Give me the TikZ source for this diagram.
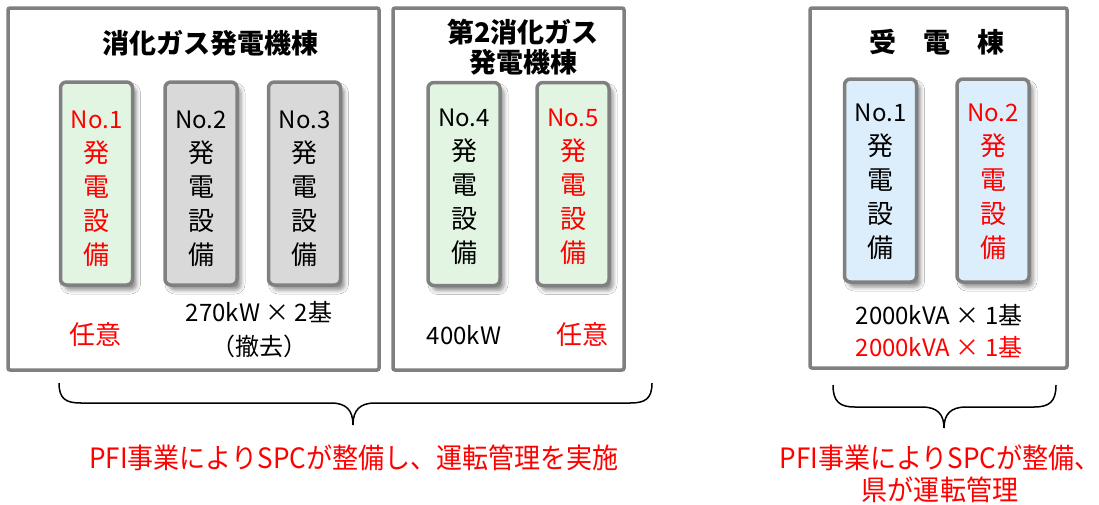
\documentclass[tikz,border=0pt]{standalone}
\usepackage{fontspec}
\setmainfont{Noto Sans CJK JP}
\usetikzlibrary{shadows.blur}
\definecolor{boxgray}{HTML}{808080}
\definecolor{ugreen}{HTML}{E2F5E3}
\definecolor{ugray}{HTML}{D9D9D9}
\definecolor{ublue}{HTML}{DCEEFB}
\definecolor{tred}{HTML}{FF0000}
\newcommand{\unum}[1]{{\fontsize{24}{34}\selectfont #1}}
\begin{document}
\begin{tikzpicture}[x=1pt,y=-1pt,
  bld/.style={draw=boxgray, line width=3.5pt, rounded corners=2pt, fill=white, inner sep=0pt, outer sep=0pt},
  unit/.style={draw=boxgray, line width=3.5pt, rounded corners=6pt, minimum width=72pt, minimum height=203pt, inner sep=0pt,
    blur shadow={shadow xshift=4pt, shadow yshift=-5pt, shadow blur radius=4pt, shadow opacity=45}},
  ulabel/.style={align=center, font=\fontsize{26}{34}\selectfont, inner sep=0pt},
  title/.style={align=center, font=\fontsize{27}{30}\selectfont\bfseries, inner sep=0pt},
  note/.style={align=center, font=\fontsize{24}{34}\selectfont, inner sep=0pt},
  bignote/.style={align=center, font=\fontsize{26}{34}\selectfont, inner sep=0pt},
  foot/.style={align=center, font=\fontsize{28}{32}\selectfont, text=tred, xscale=0.93, inner sep=0pt},
  brace/.style={draw=black, line width=1.5pt}
]
\useasboundingbox (0,0) rectangle (1099,504);

% buildings
\node[bld, minimum width=371pt, minimum height=362pt] (b1) at (193.5,189) {};
\node[bld, minimum width=231pt, minimum height=362pt] (b2) at (508.5,189) {};
\node[bld, minimum width=257pt, minimum height=360pt] (b3) at (938.5,188) {};

% titles
\node[title] (t1) at (210,43) {消化ガス発電機棟};
\node[title] (t2) at (523,47) {第2消化ガス\\発電機棟};
\node[title] (t3) at (937,42) {受　電　棟};

% units
\node[unit, fill=ugreen] (g1) at (96.5,183.5) {};
\node[unit, fill=ugray]  (g2) at (201,183.5) {};
\node[unit, fill=ugray]  (g3) at (304.5,183.5) {};
\node[unit, fill=ugreen] (g4) at (464,184) {};
\node[unit, fill=ugreen] (g5) at (573,184) {};
\node[unit, fill=ublue]  (r1) at (880.5,180.5) {};
\node[unit, fill=ublue]  (r2) at (993,180.5) {};

\node[ulabel, text=tred] (g1t) at (96.5,189) {\unum{No.1}\\発\\電\\設\\備};
\node[ulabel] (g2t) at (201,189) {\unum{No.2}\\発\\電\\設\\備};
\node[ulabel] (g3t) at (304.5,189) {\unum{No.3}\\発\\電\\設\\備};
\node[ulabel] (g4t) at (464,187) {\unum{No.4}\\発\\電\\設\\備};
\node[ulabel, text=tred] (g5t) at (573,187) {\unum{No.5}\\発\\電\\設\\備};
\node[ulabel] (r1t) at (880.5,182) {\unum{No.1}\\発\\電\\設\\備};
\node[ulabel, text=tred] (r2t) at (993,182) {\unum{No.2}\\発\\電\\設\\備};

% notes
\node[bignote, text=tred] (n1) at (95,335) {任意};
\node[note] (n2) at (259,330) {270kW × 2基\\（撤去）};
\node[note] (n3) at (464,335) {400kW};
\node[bignote, text=tred] (n4) at (582,335) {任意};
\node[note] (n5) at (939,315) {2000kVA × 1基};
\node[note, text=tred] (n6) at (939,347) {2000kVA × 1基};

% braces
\coordinate (la) at (59,383);
\coordinate (lt) at (353,425);
\coordinate (lb) at (652,383);
\draw[brace] (la) .. controls (59,399) and (66,403) .. (81,403) -- (331,403)
  .. controls (346,403) and (353,410) .. (lt)
  .. controls (353,410) and (360,403) .. (375,403) -- (630,403)
  .. controls (645,403) and (652,399) .. (lb);
\coordinate (ra) at (833,385);
\coordinate (rt) at (944,428);
\coordinate (rb) at (1056,385);
\draw[brace] (ra) .. controls (833,402) and (840,407) .. (855,407) -- (922,407)
  .. controls (937,407) and (944,414) .. (rt)
  .. controls (944,414) and (951,407) .. (966,407) -- (1034,407)
  .. controls (1049,407) and (1056,402) .. (rb);

% footers
\node[foot] (f1) at (354,458) {PFI事業によりSPCが整備し、運転管理を実施};
\node[foot] (f2) at (940,474) {PFI事業によりSPCが整備、\\県が運転管理};
\end{tikzpicture}
\end{document}
